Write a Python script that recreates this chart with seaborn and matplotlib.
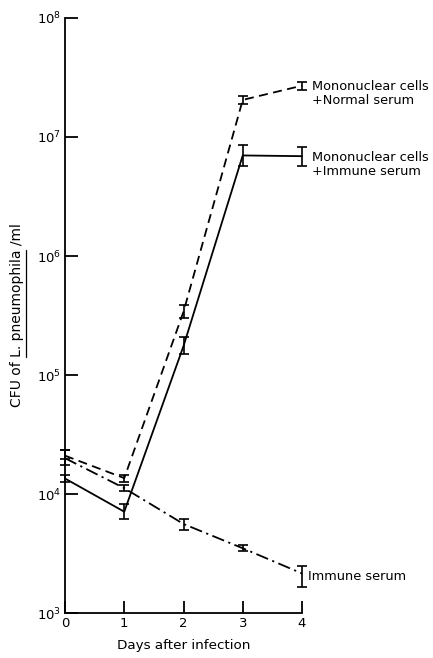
import numpy as np
import pandas as pd
import matplotlib
matplotlib.use("Agg")
import matplotlib.pyplot as plt
import seaborn as sns
from matplotlib.lines import Line2D
from matplotlib.ticker import LogLocator, NullLocator, LogFormatterMathtext

days = [0, 1, 2, 3, 4]

# Mononuclear cells + Normal serum
normal_mean = [2.1e4, 1.36e4, 3.4e5, 2.05e7, 2.7e7]
normal_low = [1.95e4, 1.25e4, 3.0e5, 1.9e7, 2.5e7]
normal_high = [2.35e4, 1.45e4, 3.9e5, 2.2e7, 2.9e7]

# Mononuclear cells + Immune serum
mono_imm_mean = [1.35e4, 7.1e3, 1.75e5, 7.0e6, 6.9e6]
mono_imm_low = [1.25e4, 6.2e3, 1.5e5, 5.7e6, 5.7e6]
mono_imm_high = [1.45e4, 8.2e3, 2.1e5, 8.6e6, 8.3e6]

# Immune serum alone
imm_mean = [2.0e4, 1.12e4, 5.6e3, 3.5e3, 2.15e3]
imm_low = [1.75e4, 1.05e4, 5.0e3, 3.3e3, 1.65e3]
imm_high = [2.35e4, 1.2e4, 6.2e3, 3.7e3, 2.5e3]

labels = ["Mononuclear cells\n+Normal serum", "Mononuclear cells\n+Immune serum", "Immune serum"]

sns.set_style("ticks", {"axes.edgecolor": "black", "text.color": "black",
                        "axes.labelcolor": "black", "xtick.color": "black",
                        "ytick.color": "black"})
plt.rcParams['font.family'] = ['DejaVu Sans']

fig = plt.figure(figsize=(4.33, 6.58), dpi=100)
ax = fig.add_axes([65 / 433, 45 / 658, 237 / 433, 595 / 658])

series = [
    (normal_mean, normal_low, normal_high, (0, (5, 3)), labels[0]),
    (mono_imm_mean, mono_imm_low, mono_imm_high, "-", labels[1]),
    (imm_mean, imm_low, imm_high, (0, (7, 2.5, 1.2, 2.5)), labels[2]),
]

for mean, low, high, ls, lab in series:
    df = pd.DataFrame({"day": days, "cfu": mean})
    sns.lineplot(data=df, x="day", y="cfu", ax=ax, color="black", lw=1.3,
                 linestyle=ls, clip_on=False)
    yerr = [np.array(mean) - np.array(low), np.array(high) - np.array(mean)]
    ax.errorbar(days, mean, yerr=yerr, fmt="none", ecolor="black",
                elinewidth=1.2, capsize=3.3, capthick=1.2, clip_on=False)

ax.set_yscale("log")
ax.set_xlim(0, 4)
ax.set_ylim(1e3, 1e8)
ax.yaxis.set_major_locator(LogLocator(base=10, numticks=10))
ax.yaxis.set_major_formatter(LogFormatterMathtext())
ax.yaxis.set_minor_locator(NullLocator())
ax.set_xticks(days)
ax.tick_params(axis="both", direction="in", length=9, width=1.3, labelsize=9.5, pad=3,
               colors="black")

sns.despine(ax=ax)
for sp in ["left", "bottom"]:
    ax.spines[sp].set_linewidth(1.3)
    ax.spines[sp].set_color("black")

ax.set_xlabel("Days after infection", fontsize=9.7, labelpad=6, color="black")
prefix = "CFU of "
species = "L. pneumophila"
ylab = ax.set_ylabel(prefix + species + " /ml", fontsize=10, labelpad=9, color="black")

ax.annotate(labels[0], (4, normal_mean[4]), xytext=(7, -5.5), textcoords="offset points",
            fontsize=9.3, va="center", ha="left", linespacing=1.1, color="black")
ax.annotate(labels[1], (4, mono_imm_mean[4]), xytext=(7, -6), textcoords="offset points",
            fontsize=9.3, va="center", ha="left", linespacing=1.1, color="black")
ax.annotate(labels[2], (4, imm_mean[4]), xytext=(4.5, -2.5), textcoords="offset points",
            fontsize=9.3, va="center", ha="left", color="black")

# underline the species name in the y label
fig.canvas.draw()
r = fig.canvas.get_renderer()
bb = ylab.get_window_extent(r)
tmp = fig.text(0, 0, prefix + species, fontsize=10)
w1 = tmp.get_window_extent(r).width
tmp.set_text(species)
w_sp = tmp.get_window_extent(r).width
tmp.remove()
W, H = fig.bbox.width, fig.bbox.height
xu = (bb.x1 + 1.5) / W
fig.add_artist(Line2D([xu, xu], [(bb.y0 + w1 - w_sp) / H, (bb.y0 + w1) / H],
                      transform=fig.transFigure, color="black", lw=0.9))

fig.savefig("out.png", dpi=100)
